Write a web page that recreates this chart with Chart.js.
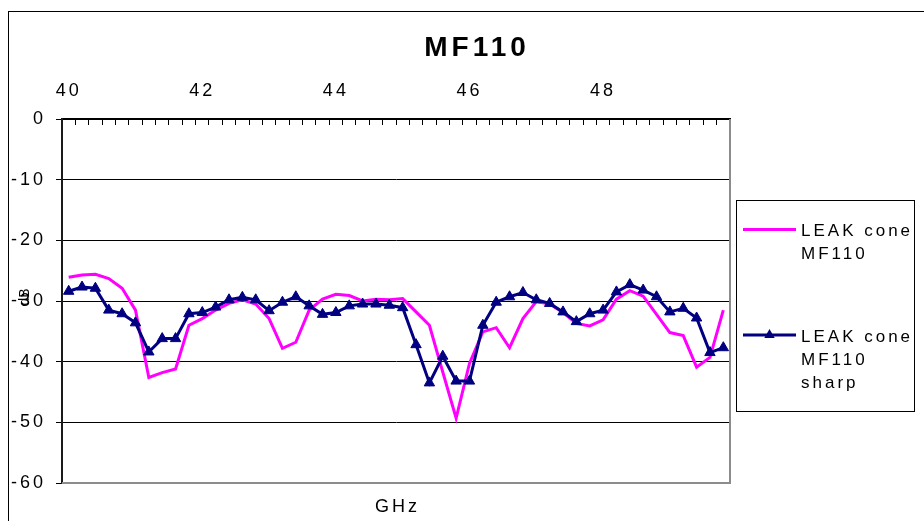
<!DOCTYPE html>
<html>
<head>
<meta charset="utf-8">
<script src="https://cdn.jsdelivr.net/npm/chart.js@4/dist/chart.umd.min.js"></script>
<style>
  html, body { margin: 0; padding: 0; background: #fff; }
  canvas { display: block; }
</style>
</head>
<body>
<canvas id="chart" width="924" height="521"></canvas>
<script>
// Frequency steps (GHz), one category per 0.2 GHz
const frequencies = [
  '40', '40.2', '40.4', '40.6', '40.8', '41', '41.2', '41.4', '41.6', '41.8',
  '42', '42.2', '42.4', '42.6', '42.8', '43', '43.2', '43.4', '43.6', '43.8',
  '44', '44.2', '44.4', '44.6', '44.8', '45', '45.2', '45.4', '45.6', '45.8',
  '46', '46.2', '46.4', '46.6', '46.8', '47', '47.2', '47.4', '47.6', '47.8',
  '48', '48.2', '48.4', '48.6', '48.8', '49', '49.2', '49.4', '49.6', '49.8'
];
const tickLabels = ['40', '42', '44', '46', '48'];

// Leakage in dB
const leakCone = [
  -26.1, -25.7, -25.6, -26.3, -27.9, -31.5, -42.6, -41.8, -41.2, -34.0,
  -32.9, -31.5, -30.4, -29.8, -30.5, -32.9, -37.8, -36.8, -31.5, -29.7,
  -28.9, -29.1, -30.0, -29.7, -29.8, -29.6, -31.8, -34.0, -41.7, -49.3,
  -40.3, -35.1, -34.4, -37.7, -32.9, -30.1, -30.5, -31.9, -33.7, -34.1,
  -33.1, -29.7, -28.3, -29.2, -32.2, -35.2, -35.7, -40.9, -39.3, -31.5
];
const leakConeSharp = [
  -28.4, -27.7, -27.9, -31.5, -32.1, -33.6, -38.4, -36.2, -36.2, -32.1,
  -31.9, -31.0, -29.8, -29.4, -29.8, -31.6, -30.2, -29.3, -30.8, -32.2,
  -31.9, -30.8, -30.5, -30.5, -30.7, -31.1, -37.2, -43.5, -39.1, -43.2,
  -43.2, -34.0, -30.2, -29.3, -28.6, -29.8, -30.4, -31.8, -33.4, -32.1,
  -31.5, -28.5, -27.3, -28.2, -29.3, -31.8, -31.2, -32.8, -38.5, -37.7
];
const seriesNames = [
  ['LEAK cone', 'MF110'],
  ['LEAK cone', 'MF110', 'sharp']
];
const yMin = -60, yMax = 0, yStep = 10;

const FONT = "'Liberation Sans', Arial, sans-serif";

function spacing(ctx, px) {
  if ('letterSpacing' in ctx) ctx.letterSpacing = px + 'px';
}

// Background, outer frame and text spacing for axis labels
const framePlugin = {
  id: 'frame',
  beforeDraw(chart) {
    const ctx = chart.ctx;
    ctx.save();
    ctx.fillStyle = '#fff';
    ctx.fillRect(0, 0, chart.width, chart.height);
    ctx.strokeStyle = '#000';
    ctx.lineWidth = 1;
    ctx.strokeRect(8.5, 11.5, 1200, 1200);
    ctx.restore();
    spacing(ctx, 3);
  },
  beforeDatasetsDraw(chart) {
    // grey plot-area border on the right and bottom
    const ctx = chart.ctx, a = chart.chartArea;
    ctx.save();
    ctx.strokeStyle = '#8c8c8c';
    ctx.lineWidth = 2;
    ctx.beginPath();
    ctx.moveTo(a.right, a.top);
    ctx.lineTo(a.right, a.bottom);
    ctx.lineTo(a.left, a.bottom);
    ctx.stroke();
    ctx.restore();
  },
  afterDraw(chart) {
    const ctx = chart.ctx, a = chart.chartArea;
    ctx.save();
    ctx.fillStyle = '#000';
    // title
    spacing(ctx, 4);
    ctx.font = 'bold 28px ' + FONT;
    ctx.textAlign = 'center';
    ctx.textBaseline = 'alphabetic';
    ctx.fillText('MF110', 477, 56);
    // x axis title below the plot
    spacing(ctx, 3);
    ctx.font = '18px ' + FONT;
    ctx.fillText('GHz', (a.left + a.right) / 2 + 1.5, 512);
    // y axis title
    spacing(ctx, 0);
    ctx.save();
    ctx.translate(25, 297);
    ctx.rotate(-Math.PI / 2);
    ctx.font = '14px ' + FONT;
    ctx.textBaseline = 'middle';
    ctx.fillText('dB', 0, 0);
    ctx.restore();
    ctx.restore();
  }
};

// Boxed legend to the right of the plot
const legendBoxPlugin = {
  id: 'legendBox',
  afterDraw(chart) {
    const ctx = chart.ctx;
    const box = { x: 736.5, y: 200.5, w: 178, h: 211 };
    const rows = [229.5, 335];
    ctx.save();
    ctx.strokeStyle = '#000';
    ctx.lineWidth = 1;
    ctx.strokeRect(box.x, box.y, box.w, box.h);
    spacing(ctx, 3);
    ctx.font = '17px ' + FONT;
    ctx.fillStyle = '#000';
    ctx.textAlign = 'left';
    ctx.textBaseline = 'alphabetic';
    chart.data.datasets.forEach((ds, i) => {
      const y = rows[i];
      ctx.strokeStyle = ds.borderColor;
      ctx.lineWidth = ds.borderWidth;
      ctx.beginPath();
      ctx.moveTo(743, y);
      ctx.lineTo(796, y);
      ctx.stroke();
      if (ds.pointStyle === 'triangle') {
        const r = ds.pointRadius, cx = 769.5;
        ctx.fillStyle = ds.pointBackgroundColor;
        ctx.beginPath();
        for (let k = 0; k < 3; k++) {
          const ang = k * 2 * Math.PI / 3;
          const px = cx + Math.sin(ang) * r, py = y - Math.cos(ang) * r;
          if (k === 0) ctx.moveTo(px, py); else ctx.lineTo(px, py);
        }
        ctx.closePath();
        ctx.fill();
      }
      ctx.fillStyle = '#000';
      ds.legendLines.forEach((line, j) => {
        ctx.fillText(line, 801, y + 6.5 + j * 23.3);
      });
    });
    ctx.restore();
  }
};

new Chart(document.getElementById('chart'), {
  type: 'line',
  data: {
    labels: frequencies,
    datasets: [
      {
        label: seriesNames[0].join(' '),
        legendLines: seriesNames[0],
        data: leakCone,
        borderColor: '#FF00FF',
        backgroundColor: '#FF00FF',
        borderWidth: 3,
        pointRadius: 0,
        tension: 0,
        fill: false,
        order: 1
      },
      {
        label: seriesNames[1].join(' '),
        legendLines: seriesNames[1],
        data: leakConeSharp,
        borderColor: '#000080',
        backgroundColor: '#000080',
        borderWidth: 3,
        pointStyle: 'triangle',
        pointRadius: 6,
        pointBorderWidth: 1,
        pointBackgroundColor: '#000080',
        pointBorderColor: '#000080',
        tension: 0,
        fill: false,
        order: 0
      }
    ]
  },
  options: {
    responsive: false,
    animation: false,
    events: [],
    layout: { padding: { left: 0, top: 0, right: 194, bottom: 38 } },
    plugins: {
      legend: { display: false },
      tooltip: { enabled: false },
      title: { display: false }
    },
    scales: {
      x: {
        type: 'category',
        position: 'top',
        offset: true,
        grid: {
          display: true,
          drawOnChartArea: false,
          drawTicks: true,
          tickLength: -6,
          offset: true,
          color: '#000',
          lineWidth: 1
        },
        border: { display: true, color: '#000', width: 1.5 },
        ticks: {
          autoSkip: false,
          maxRotation: 0,
          minRotation: 0,
          padding: 23.5,
          color: '#000',
          font: { family: FONT, size: 18 },
          callback: function (value) {
            const lab = this.getLabelForValue(value);
            return tickLabels.includes(lab) ? lab : '';
          }
        },
        afterFit(scale) { scale.height = 119; }
      },
      y: {
        type: 'linear',
        min: yMin,
        max: yMax,
        ticks: {
          stepSize: yStep,
          padding: 10,
          color: '#000',
          font: { family: FONT, size: 18 }
        },
        grid: {
          color: '#000',
          lineWidth: 1,
          drawTicks: true,
          tickLength: 6
        },
        border: { display: true, color: '#1a1a1a', width: 2 },
        afterFit(scale) { scale.width = 62; }
      }
    }
  },
  plugins: [framePlugin, legendBoxPlugin]
});
</script>
</body>
</html>
